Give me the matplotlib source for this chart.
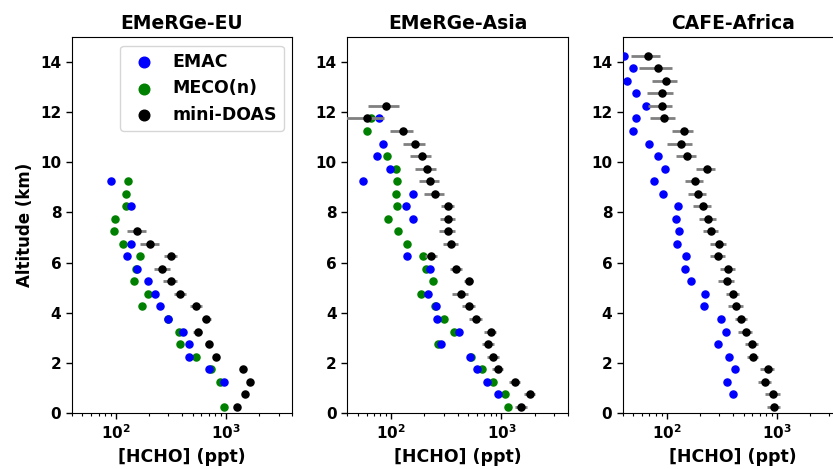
import numpy as np
import matplotlib
matplotlib.use("Agg")
import matplotlib.pyplot as plt
from matplotlib.ticker import FuncFormatter, LogLocator, NullFormatter

nan = np.nan
# altitude bin centres (km)
alt = [0.25, 0.75, 1.25, 1.75, 2.25, 2.75, 3.25, 3.75, 4.25, 4.75,
       5.25, 5.75, 6.25, 6.75, 7.25, 7.75, 8.25, 8.75, 9.25, 9.75,
       10.25, 10.75, 11.25, 11.75, 12.25, 12.75, 13.25, 13.75, 14.25]

titles = ["EMeRGe-EU", "EMeRGe-Asia", "CAFE-Africa"]
series_labels = ["EMAC", "MECO(n)", "mini-DOAS"]

# ---- EMeRGe-EU ----
eu_emac = [nan, nan, 966, 702, 467, 466, 406, 301, 253, 227,
           197, 157, 128, 139, nan, nan, 139, nan, 91, nan,
           nan, nan, nan, nan, nan, nan, nan, nan, nan]
eu_meco = [952, nan, 889, 731, 539, 381, 373, 297, 174, 197,
           146, 152, 166, 117, 96, 99, 125, 123, 130, nan,
           nan, nan, nan, nan, nan, nan, nan, nan, nan]
eu_doas = [1265, 1486, 1660, 1416, 818, 697, 554, 664, 539, 387,
           316, 266, 318, 207, 157, nan, nan, nan, nan, nan,
           nan, nan, nan, nan, nan, nan, nan, nan, nan]
eu_err = [70, 80, 90, 80, 50, 45, 54, 62, 65, 51,
          46, 44, 41, 40, 30, nan, nan, nan, nan, nan,
          nan, nan, nan, nan, nan, nan, nan, nan, nan]

# ---- EMeRGe-Asia ----
as_emac = [nan, 939, 736, 597, 520, 286, 416, 259, 256, 215,
           nan, 227, 139, nan, nan, 157, 136, 159, 56, 97,
           75, 84, nan, 78, nan, nan, nan, nan, nan]
as_meco = [1149, 1072, 846, 668, 527, 265, 375, 302, 252, 188,
           239, 206, 194, 139, 116, 93, 112, 111, 113, 111,
           92, nan, 61, 66, nan, nan, nan, nan, nan]
as_doas = [1518, 1807, 1321, 926, 846, 762, 800, 589, 509, 427,
           506, 391, 232, 348, 326, 329, 326, 249, 224, 211,
           190, 164, 128, 61, 90, nan, nan, nan, nan]
as_err = [185, 200, 158, 111, 112, 97, 100, 78, 70, 68,
          48, 48, 30, 53, 52, 54, 42, 52, 46, 46,
          42, 37, 30, 25, 28, nan, nan, nan, nan]

# ---- CAFE-Africa ----
af_emac = [nan, 400, 356, 420, 371, 295, 344, 310, 219, 223,
           167, 147, 150, 124, 129, 122, 126, 92, 77, 96,
           84, 70, 50, 53, 65, 53, 44, 50, 41]
af_meco = [nan] * 29
af_doas = [940, 926, 774, 824, 611, 595, 521, 476, 426, 403,
           351, 363, 293, 297, 252, 238, 214, 193, 180, 231,
           154, 136, 143, 95, 90, 91, 99, 84, 68]
af_err = [127, 138, 104, 123, 70, 80, 74, 61, 64, 55,
          56, 56, 47, 49, 39, 41, 39, 36, 34, 46,
          32, 35, 31, 24, 22, 24, 25, 28, 20]

panels = [
    (eu_emac, eu_meco, eu_doas, eu_err),
    (as_emac, as_meco, as_doas, as_err),
    (af_emac, af_meco, af_doas, af_err),
]

plt.rcParams['font.family'] = ['DejaVu Sans']
plt.rcParams['font.weight'] = 'bold'
plt.rcParams['axes.labelweight'] = 'bold'
plt.rcParams['axes.titleweight'] = 'bold'

fig = plt.figure(figsize=(8.33, 4.69), dpi=100)
lefts = [0.0861, 0.4169, 0.7475]
w, b, h = 0.2648, 0.1194, 0.8017

fmt = FuncFormatter(lambda v, p: r'$\mathbf{10^{%d}}$' % int(round(np.log10(v))) if v > 0 else '')

a = np.array(alt)
for i, (emac, meco, doas, err) in enumerate(panels):
    ax = fig.add_axes([lefts[i], b, w, h])
    ax.scatter(meco, a, s=26, color='green', label=series_labels[1], zorder=2)
    ax.scatter(emac, a, s=26, color='blue', label=series_labels[0], zorder=3)
    ax.errorbar(doas, a, xerr=err, fmt='none', ecolor='gray', elinewidth=2,
                capsize=0, zorder=4)
    ax.scatter(doas, a, s=26, color='black', label=series_labels[2], zorder=5)
    ax.set_xscale('log')
    ax.set_xlim(40, 4000)
    ax.set_ylim(0, 15)
    ax.set_yticks([0, 2, 4, 6, 8, 10, 12, 14])
    ax.xaxis.set_major_locator(LogLocator(base=10))
    ax.xaxis.set_major_formatter(fmt)
    ax.xaxis.set_minor_formatter(NullFormatter())
    ax.tick_params(axis='both', which='major', labelsize=11, width=1.0, length=4)
    ax.tick_params(axis='x', which='minor', width=0.8, length=2.5)
    for lab in ax.get_yticklabels():
        lab.set_fontweight('bold')
    ax.set_title(titles[i], fontsize=13.5, fontweight='bold')
    ax.set_xlabel('[HCHO] (ppt)', fontsize=12.5, fontweight='bold')
    if i == 0:
        ax.set_ylabel('Altitude (km)', fontsize=12, fontweight='bold')
        handles, labels = ax.get_legend_handles_labels()
        order = [1, 0, 2]
        ax.legend([handles[k] for k in order], [labels[k] for k in order],
                  loc='upper right', fontsize=12.5, markerscale=1.5,
                  handletextpad=0.6, prop={'weight': 'bold', 'size': 12.5})

fig.savefig('out.png', dpi=100)
